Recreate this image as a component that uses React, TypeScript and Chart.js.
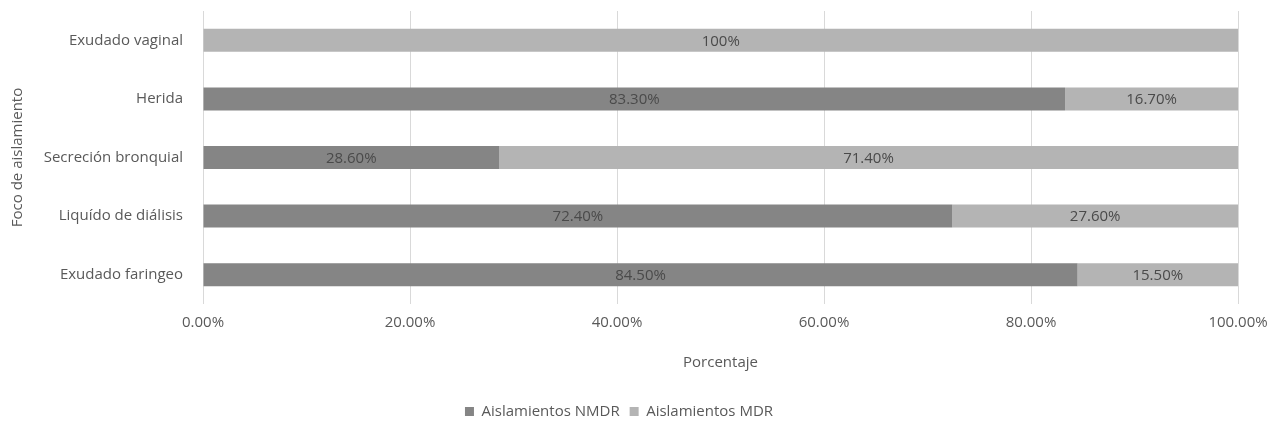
import React, { useEffect, useRef } from "react";
import { Chart, registerables } from "chart.js";

Chart.register(...registerables);

const categories = ["Exudado vaginal", "Herida", "Secreción bronquial", "Liquído de diálisis", "Exudado faringeo"];
const nmdrValues = [0, 83.3, 28.6, 72.4, 84.5];
const mdrValues = [100, 16.7, 71.4, 27.6, 15.5];
const nmdrLabels = ["", "83.30%", "28.60%", "72.40%", "84.50%"];
const mdrLabels = ["100%", "16.70%", "71.40%", "27.60%", "15.50%"];
const xTicks = ["0.00%", "20.00%", "40.00%", "60.00%", "80.00%", "100.00%"];

const FONT = "'Open Sans', sans-serif";
const TEXT = "#595959";
const FS = 15;

const segmentLabels = {
  id: "segmentLabels",
  afterDatasetsDraw(chart: any) {
    const ctx = chart.ctx;
    const texts = [nmdrLabels, mdrLabels];
    ctx.save();
    ctx.font = `${FS}px ${FONT}`;
    ctx.fillStyle = "#4a4a4a";
    ctx.textAlign = "center";
    ctx.textBaseline = "middle";
    chart.data.datasets.forEach((_ds: any, di: number) => {
      const meta = chart.getDatasetMeta(di);
      meta.data.forEach((bar: any, i: number) => {
        const t = texts[di][i];
        if (!t) return;
        const p = bar.getProps(["x", "y", "base"], true);
        ctx.fillText(t, (p.x + p.base) / 2, p.y + 1);
      });
    });
    ctx.restore();
  },
};

export default function App() {
  const ref = useRef<HTMLCanvasElement>(null);
  useEffect(() => {
    if (!ref.current) return;
    const chart = new Chart(ref.current, {
      type: "bar",
      data: {
        labels: categories,
        datasets: [
          { label: "Aislamientos NMDR", data: nmdrValues, backgroundColor: "#858585", barPercentage: 0.8, categoryPercentage: 0.49 },
          { label: "Aislamientos MDR", data: mdrValues, backgroundColor: "#b4b4b4", barPercentage: 0.8, categoryPercentage: 0.49 },
        ],
      },
      options: {
        indexAxis: "y",
        animation: false,
        responsive: true,
        maintainAspectRatio: false,
        layout: { padding: { left: 0, right: 40, top: 11, bottom: 0 } },
        plugins: {
          tooltip: { enabled: false },
          legend: {
            position: "bottom",
            labels: {
              font: { family: FONT, size: FS },
              color: TEXT,
              boxWidth: 9,
              boxHeight: 9,
              padding: 10,
            },
          },
        },
        scales: {
          x: {
            stacked: true,
            min: 0,
            max: 100,
            ticks: {
              stepSize: 20,
              color: TEXT,
              font: { family: FONT, size: FS },
              padding: 10,
              callback: (_v: any, i: number) => xTicks[i],
            },
            grid: { color: "#d9d9d9", lineWidth: 1, drawTicks: false },
            border: { display: false },
            title: { display: true, text: "Porcentaje", color: TEXT, font: { family: FONT, size: FS }, padding: { top: 4, bottom: 22 } },
            afterFit: (s: any) => { s.height = 90; },
          },
          y: {
            stacked: true,
            ticks: { color: TEXT, font: { family: FONT, size: FS }, padding: 12 },
            grid: { display: false },
            border: { display: false },
            title: { display: true, text: "Foco de aislamiento", color: TEXT, font: { family: FONT, size: FS }, padding: { top: 9, bottom: 4 } },
            afterFit: (s: any) => { s.width = 203; s.paddingTop = 0; s.paddingBottom = 0; },
          },
        },
      },
      plugins: [segmentLabels],
    });
    return () => chart.destroy();
  }, []);
  return (
    <div style={{ position: "fixed", left: 0, top: 0, width: 1278, height: 429, background: "#fff" }}>
      <canvas ref={ref} />
    </div>
  );
}
